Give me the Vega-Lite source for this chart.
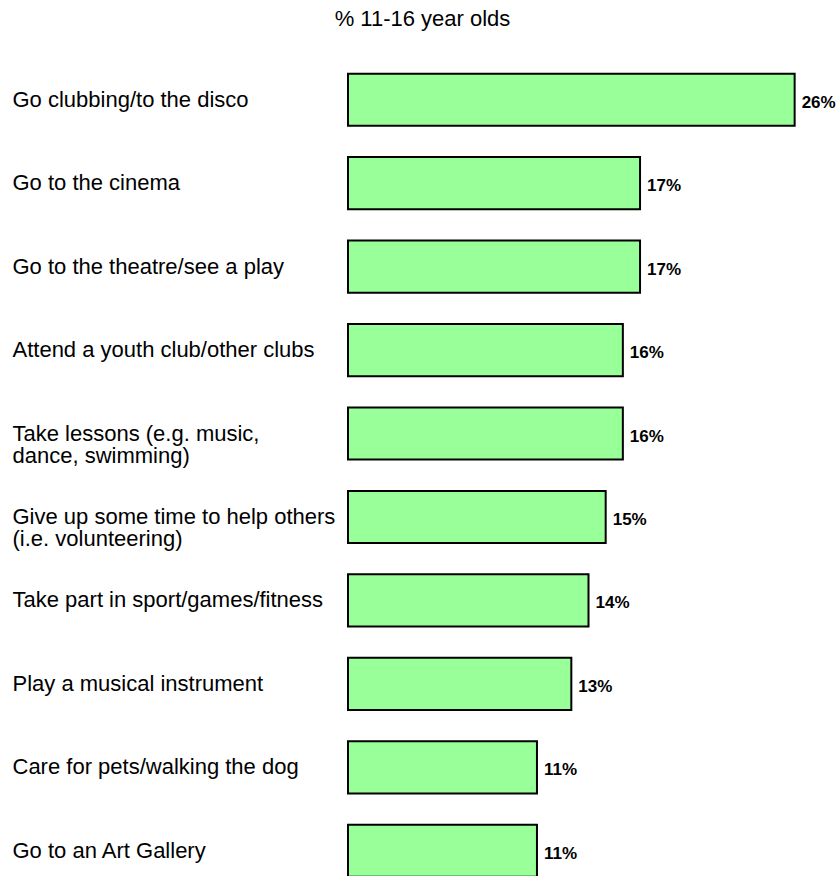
{
  "$schema": "https://vega.github.io/schema/vega-lite/v6.json",
  "autosize": {"type": "none"},
  "padding": {"left": 348, "top": 58, "right": 9, "bottom": 0},
  "width": 481,
  "height": 834.5,
  "background": "white",
  "config": {
    "view": {"stroke": null},
    "font": "Liberation Sans"
  },
  "title": {
    "text": "% 11-16 year olds",
    "font": "Liberation Sans",
    "fontSize": 22,
    "fontWeight": "normal",
    "color": "black",
    "anchor": "middle",
    "dx": -166,
    "baseline": "alphabetic",
    "offset": 10
  },
  "data": {
    "values": [
      {"activity": "Go clubbing/to the disco", "value": 0.26},
      {"activity": "Go to the cinema", "value": 0.17},
      {"activity": "Go to the theatre/see a play", "value": 0.17},
      {"activity": "Attend a youth club/other clubs", "value": 0.16},
      {"activity": "Take lessons (e.g. music,|dance, swimming)", "value": 0.16},
      {"activity": "Give up some time to help others|(i.e. volunteering)", "value": 0.15},
      {"activity": "Take part in sport/games/fitness", "value": 0.14},
      {"activity": "Play a musical instrument", "value": 0.13},
      {"activity": "Care for pets/walking the dog", "value": 0.11},
      {"activity": "Go to an Art Gallery", "value": 0.11}
    ]
  },
  "encoding": {
    "y": {
      "field": "activity",
      "type": "nominal",
      "sort": null,
      "scale": {"paddingInner": 0.375, "paddingOuter": 0.1875},
      "axis": {
        "title": null,
        "orient": "left",
        "ticks": false,
        "tickSize": 0,
        "domain": false,
        "labelAlign": "left",
        "labelBaseline": "middle",
        "labelPadding": 336,
        "labelFont": "Liberation Sans",
        "labelFontSize": 22,
        "labelLineHeight": 22,
        "labelColor": "black",
        "labelLimit": 400,
        "labelExpr": "split(datum.label, '|')"
      }
    },
    "x": {
      "field": "value",
      "type": "quantitative",
      "scale": {"domain": [0, 0.28], "nice": false},
      "axis": null
    }
  },
  "layer": [
    {
      "mark": {"type": "bar", "fill": "#99FF99", "stroke": "black", "strokeWidth": 2}
    },
    {
      "mark": {
        "type": "text",
        "align": "left",
        "baseline": "middle",
        "dx": 7,
        "dy": 3,
        "font": "Liberation Sans",
        "fontSize": 17,
        "fontWeight": "bold",
        "color": "black"
      },
      "encoding": {
        "text": {"field": "value", "type": "quantitative", "format": ".0%"}
      }
    }
  ]
}
